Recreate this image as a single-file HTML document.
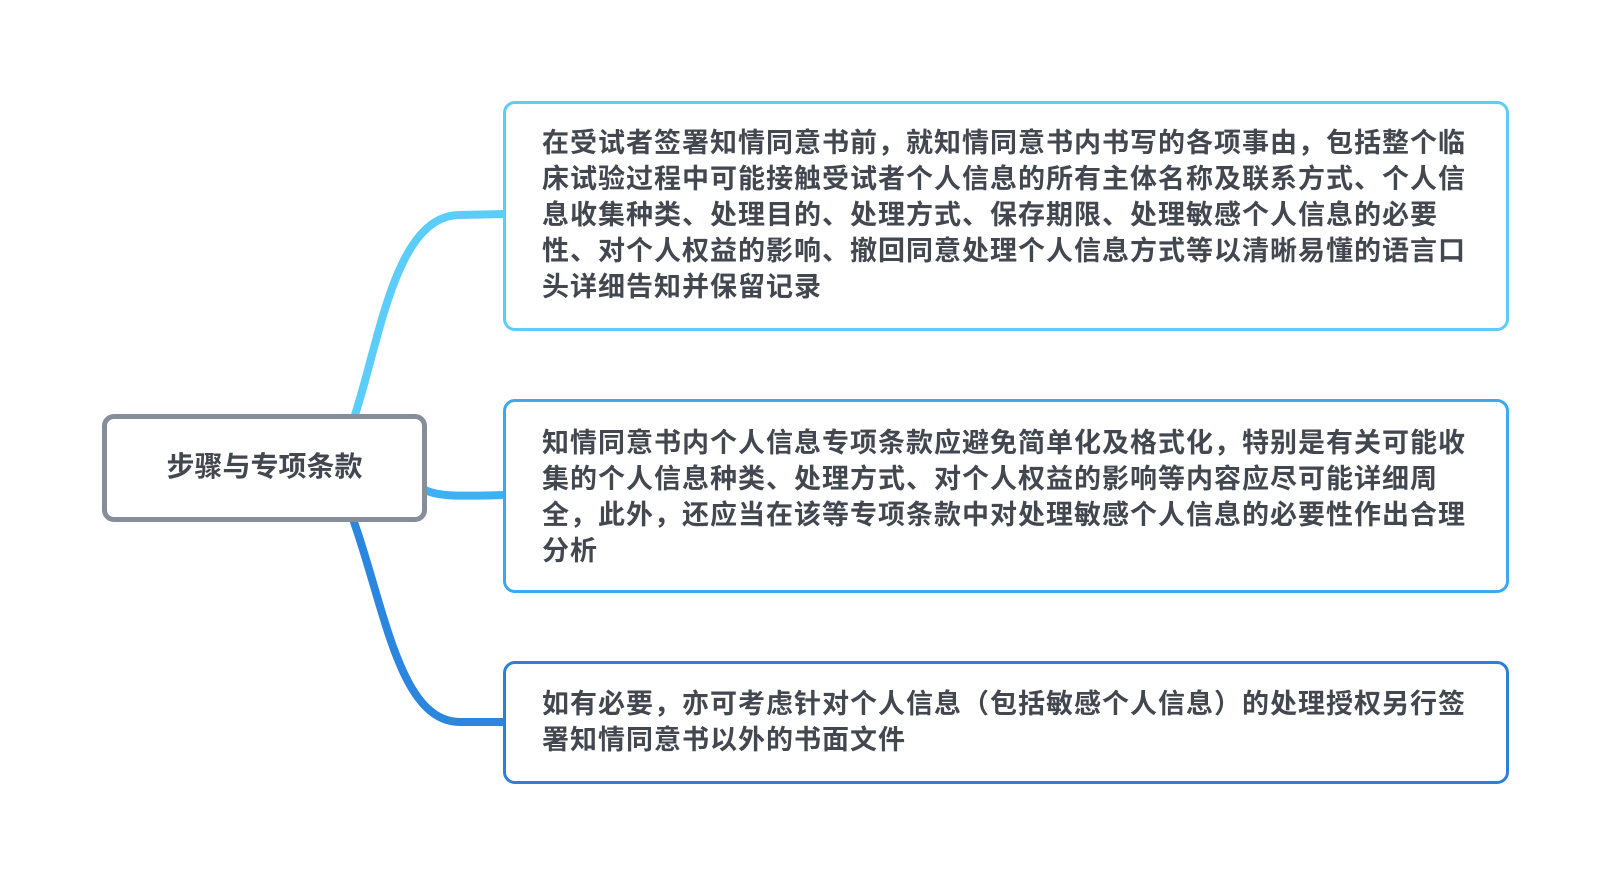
<!DOCTYPE html>
<html><head><meta charset="utf-8"><style>
html,body{margin:0;padding:0;background:#fff;width:1610px;height:880px;overflow:hidden;position:relative}
.b{position:absolute;box-sizing:border-box;background:#fff;border-radius:12px;font-family:"Liberation Sans","Noto Sans CJK SC",sans-serif;font-weight:bold;color:#434750}
.t{position:absolute;left:36px;font-size:27px;line-height:36px;letter-spacing:1px;white-space:nowrap}
</style></head><body>
<svg width="1610" height="880" style="position:absolute;left:0;top:0">
<path d="M354 418 C 380 340, 395 215, 460 215 L 505 214" fill="none" stroke="#5acdfa" stroke-width="8" stroke-linecap="round"/>
<path d="M425 490 C 440 497, 460 496, 505 495" fill="none" stroke="#3cb1f6" stroke-width="8"/>
<path d="M354 522 C 385 610, 400 722, 460 722 L 505 722" fill="none" stroke="#2b86e0" stroke-width="8" stroke-linecap="round"/>
</svg>
<div class="b" style="left:102px;top:414px;width:325px;height:108px;border:5px solid #868e9c;">
<div style="position:absolute;left:0;right:0;top:28px;text-align:center;font-size:28px;line-height:40px;">步骤与专项条款</div></div>
<div class="b" style="left:503px;top:101px;width:1006px;height:230px;border:3px solid #5ccdf9;">
<div class="t" style="top:21px">在受试者签署知情同意书前，就知情同意书内书写的各项事由，包括整个临<br>床试验过程中可能接触受试者个人信息的所有主体名称及联系方式、个人信<br>息收集种类、处理目的、处理方式、保存期限、处理敏感个人信息的必要<br>性、对个人权益的影响、撤回同意处理个人信息方式等以清晰易懂的语言口<br>头详细告知并保留记录</div></div>
<div class="b" style="left:503px;top:399px;width:1006px;height:194px;border:3px solid #3aa9f0;">
<div class="t" style="top:23px">知情同意书内个人信息专项条款应避免简单化及格式化，特别是有关可能收<br>集的个人信息种类、处理方式、对个人权益的影响等内容应尽可能详细周<br>全，此外，还应当在该等专项条款中对处理敏感个人信息的必要性作出合理<br>分析</div></div>
<div class="b" style="left:503px;top:661px;width:1006px;height:123px;border:3px solid #2c80da;">
<div class="t" style="top:22px">如有必要，亦可考虑针对个人信息（包括敏感个人信息）的处理授权另行签<br>署知情同意书以外的书面文件</div></div>
</body></html>
